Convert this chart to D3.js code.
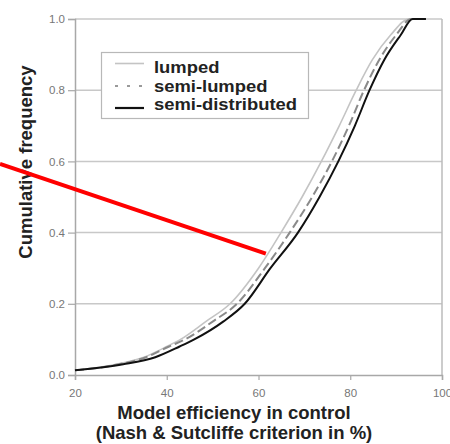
<!DOCTYPE html>
<html>
<head>
<meta charset="utf-8">
<script src="https://cdn.jsdelivr.net/npm/d3@7/dist/d3.min.js"></script>
<style>
  html, body { margin: 0; padding: 0; background: #fff; }
  svg { display: block; font-family: "Liberation Sans", Arial, sans-serif; }
</style>
</head>
<body>
<svg id="chart" width="450" height="444"></svg>
<script>
// ---- data ----
const freqLevels = [0.013, 0.03, 0.05, 0.08, 0.10, 0.15, 0.20, 0.30, 0.40, 0.50, 0.60, 0.70, 0.80, 0.885, 0.955, 1.0, 1.0];
const lumpedEff     = [20, 29.0, 35.0, 40.0, 43.0, 48.5, 53.8, 60.0, 64.9, 69.5, 73.7, 77.6, 81.3, 84.8, 88.8, 92.8, 96.5];
const semiLumpedEff = [20, 29.5, 35.5, 40.5, 44.0, 50.0, 55.3, 61.4, 66.8, 71.7, 76.0, 79.7, 83.0, 86.3, 90.0, 93.3, 96.5];
const semiDistEff   = [20, 30.5, 37.5, 42.8, 46.0, 52.3, 57.0, 62.6, 68.6, 73.3, 77.4, 81.0, 84.2, 87.4, 91.0, 93.6, 96.5];
const seriesNames = ["lumped", "semi-lumped", "semi-distributed"];
const xTicks = [20, 40, 60, 80, 100];
const yTicks = [0.0, 0.2, 0.4, 0.6, 0.8, 1.0];
const xTitle = ["Model efficiency in control", "(Nash & Sutcliffe criterion in %)"];
const yTitle = "Cumulative frequency";
// red annotation line (data coordinates: efficiency, frequency)
const annotEff = [3.65, 61.6];
const annotFreq = [0.593, 0.341];

// ---- layout ----
const svg = d3.select("#chart");
const x = d3.scaleLinear().domain([20, 100]).range([75, 442]);
const y = d3.scaleLinear().domain([0, 1]).range([375, 19]);

const styles = [
  { stroke: "#c4c4c4", width: 1.6, dash: null, legendDash: null },
  { stroke: "#8a8a8a", width: 2, dash: "9,4", legendDash: "3,9" },
  { stroke: "#111111", width: 2, dash: null, legendDash: null }
];

// gridlines
svg.append("g").selectAll("line").data(yTicks.filter(d => d > 0)).join("line")
  .attr("x1", x(20)).attr("x2", x(100))
  .attr("y1", d => y(d)).attr("y2", d => y(d))
  .attr("stroke", "#c8c8c8").attr("stroke-width", 1.5);

// right border
svg.append("line").attr("x1", x(100)).attr("x2", x(100)).attr("y1", y(0)).attr("y2", y(1))
  .attr("stroke", "#bbbbbb").attr("stroke-width", 1.5);

// axes
const yAxis = d3.axisLeft(y).tickValues(yTicks).tickFormat(d3.format(".1f")).tickSize(7).tickPadding(3);
const xAxis = d3.axisBottom(x).tickValues(xTicks).tickFormat(d3.format("d")).tickSize(5).tickPadding(9);

const gy = svg.append("g").attr("transform", `translate(${x(20)},0)`).call(yAxis);
const gx = svg.append("g").attr("transform", `translate(0,${y(0)})`).call(xAxis);
[gx, gy].forEach(g => {
  g.select(".domain").attr("stroke", "#a8a8a8").attr("stroke-width", 1.5);
  g.selectAll(".tick line").attr("stroke", "#a8a8a8").attr("stroke-width", 1.2);
  g.selectAll(".tick text").attr("fill", "#777").attr("font-size", 11.5)
    .attr("font-family", "Liberation Sans, Arial, sans-serif");
});

// curves
const effArrays = [lumpedEff, semiLumpedEff, semiDistEff];
const line = d3.line().x(d => x(d[0])).y(d => y(d[1])).curve(d3.curveMonotoneX);
effArrays.forEach((arr, i) => {
  const pts = arr.map((e, k) => [e, freqLevels[k]]);
  const p = svg.append("path").datum(pts)
    .attr("fill", "none")
    .attr("stroke", styles[i].stroke)
    .attr("stroke-width", styles[i].width)
    .attr("stroke-linejoin", "round")
    .attr("d", line);
  if (styles[i].dash) p.attr("stroke-dasharray", styles[i].dash);
});

// legend
const lg = svg.append("g");
lg.append("rect").attr("x", 101.5).attr("y", 52.5).attr("width", 207).attr("height", 66)
  .attr("fill", "#fff").attr("stroke", "#b8b8b8").attr("stroke-width", 1.2);
const legY = [63.5, 86, 108];
const legText = [73, 91.5, 110];
const texts = [];
seriesNames.forEach((name, i) => {
  const l = lg.append("line").attr("x1", 115).attr("x2", 144)
    .attr("y1", legY[i]).attr("y2", legY[i])
    .attr("stroke", i === 1 ? "#9a9a9a" : styles[i].stroke)
    .attr("stroke-width", i === 0 ? 1.6 : 2.2);
  if (styles[i].legendDash) l.attr("stroke-dasharray", styles[i].legendDash);
  texts.push(lg.append("text").attr("x", 154).attr("y", legText[i])
    .attr("font-size", 16).attr("font-weight", "bold").attr("fill", "#222")
    .text(name));
});
// stretch legend text horizontally so "semi-distributed" spans ~143px, like the reference
const natural = texts[2].node().getComputedTextLength();
const k = natural > 0 ? 143 / natural : 1;
texts.forEach(t => {
  const w = t.node().getComputedTextLength();
  t.attr("textLength", w * k).attr("lengthAdjust", "spacingAndGlyphs");
});

// axis titles
svg.append("text").attr("x", 234).attr("y", 419).attr("text-anchor", "middle")
  .attr("font-size", 18.5).attr("font-weight", "bold").attr("fill", "#222").text(xTitle[0]);
svg.append("text").attr("x", 234).attr("y", 439).attr("text-anchor", "middle")
  .attr("font-size", 18.5).attr("font-weight", "bold").attr("fill", "#222").text(xTitle[1]);
svg.append("text").attr("transform", "translate(32,162) rotate(-90)").attr("text-anchor", "middle")
  .attr("font-size", 18.5).attr("font-weight", "bold").attr("fill", "#222").text(yTitle);

// red annotation line
svg.append("line")
  .attr("x1", x(annotEff[0])).attr("y1", y(annotFreq[0]))
  .attr("x2", x(annotEff[1])).attr("y2", y(annotFreq[1]))
  .attr("stroke", "#ff0000").attr("stroke-width", 4);
</script>
</body>
</html>
